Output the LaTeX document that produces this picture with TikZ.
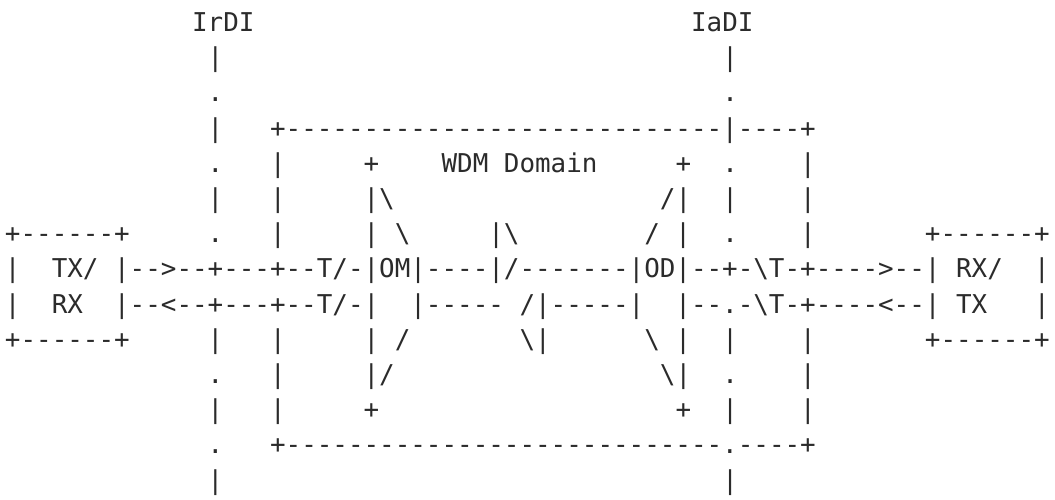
\documentclass[tikz,border=0pt]{standalone}
\usepackage{fontspec}
\setmonofont{DejaVu Sans Mono}
\definecolor{txt}{HTML}{2B2B2B}
\ExplSyntaxOn
\NewDocumentCommand\rep{mm}{\prg_replicate:nn{#1}{#2}}
\ExplSyntaxOff
\newcommand\spc[1]{\hspace*{#1\fontcharwd\font`\x}}
\newcommand\bs{\textbackslash}
\tikzset{
  asciirow/.style={anchor=base west, inner sep=0pt, outer sep=0pt, text=txt,
    font=\ttfamily\fontsize{25.9}{30}\selectfont}
}
\begin{document}
\begin{tikzpicture}[x=1pt,y=1pt]
\fill[white] (0,0) rectangle (1055,499);
\useasboundingbox (0,0) rectangle (1055,499);
\def\rowy#1{\fpeval{467.5-35.2*(#1-1)}}
\node[asciirow] (l1) at (5,\rowy{1}) {\spc{12}IrDI\spc{28}IaDI};
\node[asciirow] (l2) at (5,\rowy{2}) {\spc{13}|\spc{32}|};
\node[asciirow] (l3) at (5,\rowy{3}) {\spc{13}.\spc{32}.};
\node[asciirow] (l4) at (5,\rowy{4}) {\spc{13}|\spc{3}+\rep{28}{-}|\rep{4}{-}+};
\node[asciirow] (l5) at (5,\rowy{5}) {\spc{13}.\spc{3}|\spc{5}+\spc{4}WDM\spc{1}Domain\spc{5}+\spc{2}.\spc{4}|};
\node[asciirow] (l6) at (5,\rowy{6}) {\spc{13}|\spc{3}|\spc{5}|\bs\spc{17}/|\spc{2}|\spc{4}|};
\node[asciirow] (l7) at (5,\rowy{7}) {+\rep{6}{-}+\spc{5}.\spc{3}|\spc{5}|\spc{1}\bs\spc{5}|\bs\spc{8}/\spc{1}|\spc{2}.\spc{4}|\spc{7}+\rep{6}{-}+};
\node[asciirow] (l8) at (5,\rowy{8}) {|\spc{2}TX/\spc{1}|-{}-{}>-{}-+-{}-{}-+-{}-T/-|OM|-{}-{}-{}-|/\rep{7}{-{}}|OD|-{}-+-\bs{}T-+-{}-{}-{}->-{}-|\spc{1}RX/\spc{2}|};
\node[asciirow] (l9) at (5,\rowy{9}) {|\spc{2}RX\spc{2}|-{}-<-{}-+-{}-{}-+-{}-T/-|\spc{2}|\rep{5}{-{}}\spc{1}/|\rep{5}{-{}}|\spc{2}|-{}-.-\bs{}T-+\rep{4}{-{}}<-{}-|\spc{1}TX\spc{3}|};
\node[asciirow] (l10) at (5,\rowy{10}) {+\rep{6}{-}+\spc{5}|\spc{3}|\spc{5}|\spc{1}/\spc{7}\bs|\spc{6}\bs\spc{1}|\spc{2}|\spc{4}|\spc{7}+\rep{6}{-}+};
\node[asciirow] (l11) at (5,\rowy{11}) {\spc{13}.\spc{3}|\spc{5}|/\spc{17}\bs|\spc{2}.\spc{4}|};
\node[asciirow] (l12) at (5,\rowy{12}) {\spc{13}|\spc{3}|\spc{5}+\spc{19}+\spc{2}|\spc{4}|};
\node[asciirow] (l13) at (5,\rowy{13}) {\spc{13}.\spc{3}+\rep{28}{-}.\rep{4}{-}+};
\node[asciirow] (l14) at (5,\rowy{14}) {\spc{13}|\spc{32}|};
\end{tikzpicture}
\end{document}
